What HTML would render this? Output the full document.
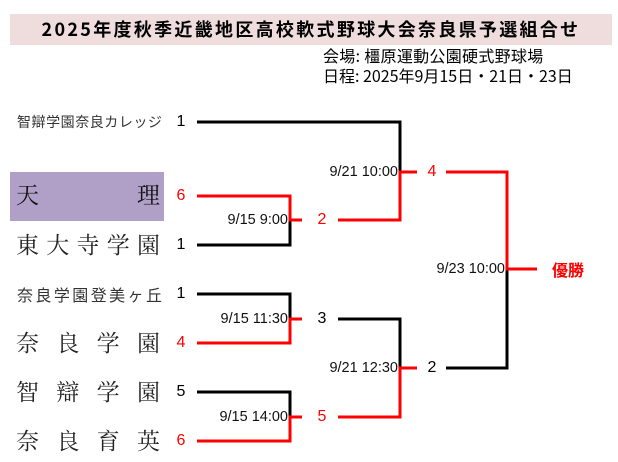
<!DOCTYPE html>
<html><head><meta charset="utf-8"><style>
body{margin:0;width:618px;height:462px;background:#fff;position:relative;overflow:hidden;font-family:"Liberation Sans","Noto Sans CJK JP",sans-serif}
.a{position:absolute;white-space:nowrap;line-height:1}
.nm{position:absolute;left:16px;width:144px;display:flex;justify-content:space-between;font-family:"Noto Serif CJK SC",serif;font-size:23px;line-height:1;color:#222}
.sm{position:absolute;left:17px;width:145px;display:flex;justify-content:space-between;font-family:"Noto Sans CJK JP",sans-serif;font-size:14px;color:#333;line-height:1}
.sc{position:absolute;font-size:16px;line-height:1;width:14px;text-align:center}
.dt{position:absolute;font-size:14.5px;line-height:1;text-align:right;color:#111}
.r{color:#f00}
</style></head><body>
<div class="a" style="left:10px;top:14px;width:602px;height:31px;background:#efdcdc"></div>
<div class="a" style="left:10px;top:20px;width:602px;text-align:center;font-size:18px;letter-spacing:2.3px;font-weight:bold;font-family:'Noto Sans CJK JP',sans-serif">2025年度秋季近畿地区高校軟式野球大会奈良県予選組合せ</div>
<div class="a" style="left:323px;top:47px;font-size:16px;letter-spacing:0.3px;font-family:'Noto Sans CJK JP',sans-serif">会場: 橿原運動公園硬式野球場</div>
<div class="a" style="left:323px;top:67px;font-size:16px;font-family:'Noto Sans CJK JP',sans-serif">日程: 2025年9月15日・21日・23日</div>

<div class="a" style="left:10px;top:172px;width:154px;height:49px;background:#b0a0c8"></div>
<div class="sm" style="top:115px"><span>智</span><span>辯</span><span>学</span><span>園</span><span>奈</span><span>良</span><span>カ</span><span>レ</span><span>ッ</span><span>ジ</span></div>
<div class="nm" style="top:182px;color:#111"><span>天</span><span>理</span></div>
<div class="nm" style="top:232px"><span>東</span><span>大</span><span>寺</span><span>学</span><span>園</span></div>
<div class="sm" style="top:286px;font-size:16px"><span>奈</span><span>良</span><span>学</span><span>園</span><span>登</span><span>美</span><span>ヶ</span><span>丘</span></div>
<div class="nm" style="top:330px"><span>奈</span><span>良</span><span>学</span><span>園</span></div>
<div class="nm" style="top:379px"><span>智</span><span>辯</span><span>学</span><span>園</span></div>
<div class="nm" style="top:428px"><span>奈</span><span>良</span><span>育</span><span>英</span></div>

<div class="sc" style="left:174px;top:114px">1</div>
<div class="sc r" style="left:174px;top:188px">6</div>
<div class="sc" style="left:174px;top:237px">1</div>
<div class="sc" style="left:174px;top:286px">1</div>
<div class="sc r" style="left:174px;top:335px">4</div>
<div class="sc" style="left:174px;top:384px">5</div>
<div class="sc r" style="left:174px;top:433px">6</div>

<div class="sc r" style="left:315px;top:212px">2</div>
<div class="sc" style="left:315px;top:311px">3</div>
<div class="sc r" style="left:315px;top:409px">5</div>
<div class="sc r" style="left:425px;top:164px">4</div>
<div class="sc" style="left:425px;top:360px">2</div>
<div class="a r" style="left:552px;top:261px;font-size:16px;font-weight:bold;font-family:'Noto Sans CJK JP',sans-serif">優勝</div>

<div class="dt" style="right:330px;top:213px">9/15 9:00</div>
<div class="dt" style="right:330px;top:312px">9/15 11:30</div>
<div class="dt" style="right:330px;top:410px">9/15 14:00</div>
<div class="dt" style="right:220px;top:165px">9/21 10:00</div>
<div class="dt" style="right:220px;top:361px">9/21 12:30</div>
<div class="dt" style="right:113px;top:262px">9/23 10:00</div>

<svg class="a" style="left:0;top:0" width="618" height="462" stroke-width="3" fill="none">
<g stroke="#000">
<path d="M197 122H400V172"/>
<path d="M197 245H290V220"/>
<path d="M197 294H290V319"/>
<path d="M338 319H400V368"/>
<path d="M197 392H290V417"/>
<path d="M446 368H507V269"/>
</g>
<g stroke="#f00">
<path d="M197 196H290V220H302"/>
<path d="M338 220H400V172H417"/>
<path d="M446 172H507V269H537"/>
<path d="M197 343H290V319H302"/>
<path d="M197 441H290V417H302"/>
<path d="M338 417H400V368H417"/>
</g>
</svg>
</body></html>
